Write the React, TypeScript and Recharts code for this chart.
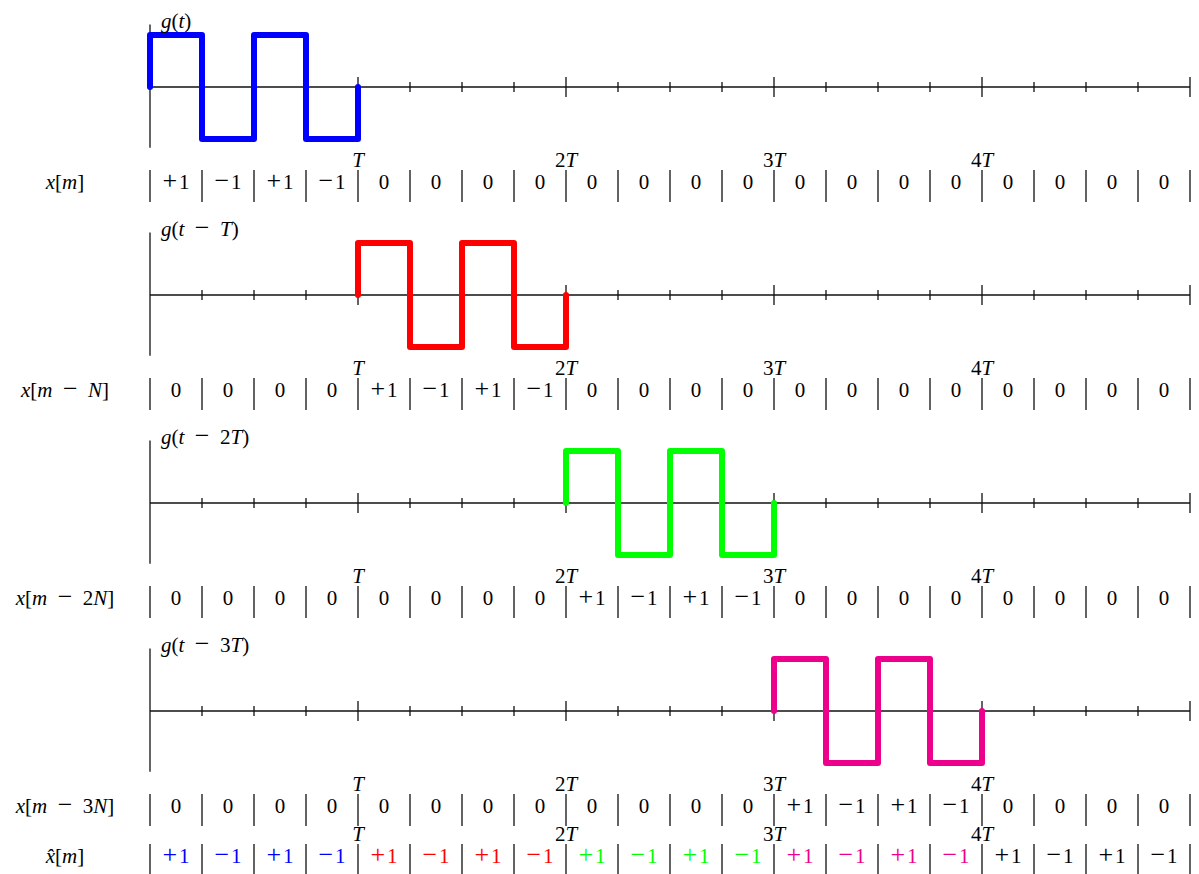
import React from 'react';
import { ComposedChart, Line, Scatter, XAxis, YAxis } from 'recharts';

const W = 1199;
const H = 874;

// ---- data ----
const gShape = [
  { t: 0, g: 0 }, { t: 0, g: 1 }, { t: 0.25, g: 1 }, { t: 0.25, g: -1 },
  { t: 0.5, g: -1 }, { t: 0.5, g: 1 }, { t: 0.75, g: 1 }, { t: 0.75, g: -1 },
  { t: 1, g: -1 }, { t: 1, g: 0 },
];
const delays = [0, 1, 2, 3];
const signalColors = ['#0000ff', '#ff0000', '#00ff00', '#ec008c'];
const panelLabels = ['g(t)', 'g(t\u2002−\u2002T)', 'g(t\u2002−\u20022T)', 'g(t\u2002−\u20023T)'];
const rowLabels = ['x[m]', 'x[m\u2002−\u2002N]', 'x[m\u2002−\u20022N]', 'x[m\u2002−\u20023N]', 'x\u0302[m]'];
const periodLabels = ['T', '2T', '3T', '4T'];
const periodTimes = [1, 2, 3, 4];
const axisEnd = 5;
const tickTimes = [0.25, 0.5, 0.75, 1, 1.25, 1.5, 1.75, 2, 2.25, 2.5, 2.75, 3, 3.25, 3.5, 3.75, 4, 4.25, 4.5, 4.75, 5];
const cellBounds = [0, 0.25, 0.5, 0.75, 1, 1.25, 1.5, 1.75, 2, 2.25, 2.5, 2.75, 3, 3.25, 3.5, 3.75, 4, 4.25, 4.5, 4.75, 5];

const rowX0 = ['+1', '−1', '+1', '−1', '0', '0', '0', '0', '0', '0', '0', '0', '0', '0', '0', '0', '0', '0', '0', '0'];
const rowX1 = ['0', '0', '0', '0', '+1', '−1', '+1', '−1', '0', '0', '0', '0', '0', '0', '0', '0', '0', '0', '0', '0'];
const rowX2 = ['0', '0', '0', '0', '0', '0', '0', '0', '+1', '−1', '+1', '−1', '0', '0', '0', '0', '0', '0', '0', '0'];
const rowX3 = ['0', '0', '0', '0', '0', '0', '0', '0', '0', '0', '0', '0', '+1', '−1', '+1', '−1', '0', '0', '0', '0'];
const rowXhat = ['+1', '−1', '+1', '−1', '+1', '−1', '+1', '−1', '+1', '−1', '+1', '−1', '+1', '−1', '+1', '−1', '+1', '−1', '+1', '−1'];
const xhatColors = [
  '#0000ff', '#0000ff', '#0000ff', '#0000ff',
  '#ff0000', '#ff0000', '#ff0000', '#ff0000',
  '#00ff00', '#00ff00', '#00ff00', '#00ff00',
  '#ec008c', '#ec008c', '#ec008c', '#ec008c',
  '#000000', '#000000', '#000000', '#000000',
];
const rows = [rowX0, rowX1, rowX2, rowX3, rowXhat];

// ---- layout (pixels -> units) ----
const UNIT_PX = 52;
const X0_PX = 150;
const T_PX = 208;
const ZERO0_PX = 87;
const PANEL_GAP = 4;
const u = (p: number) => p / UNIT_PX;
const FONT = 'Liberation Serif';
const FS = 21;
const OP_FS = 26;

const xDomain = [-X0_PX / T_PX, (W - X0_PX) / T_PX];
const yDomain = [-u(H - ZERO0_PX), u(ZERO0_PX)];

const panelZero = (k: number) => -PANEL_GAP * k;
const rowY = (r: number) => (r < 4 ? panelZero(r) - u(102) : panelZero(3) - u(152));
const labelX = (65 - X0_PX) / T_PX;

type Part = { s: string; kind: 'it' | 'rm' | 'op' };

function splitMath(str: string): Part[] {
  const parts: Part[] = [];
  const re = /([A-Za-z]\u0302?)|([+−])|([^A-Za-z+−]+)/g;
  let m: RegExpExecArray | null;
  while ((m = re.exec(str)) !== null) {
    if (m[1]) parts.push({ s: m[1], kind: 'it' });
    else if (m[2]) parts.push({ s: m[2], kind: 'op' });
    else parts.push({ s: m[3], kind: 'rm' });
  }
  return parts;
}

function MathText({ x, y, str, anchor, fill }: any) {
  const parts = splitMath(str);
  return (
    <text
      x={x}
      y={y}
      textAnchor={anchor}
      fill={fill || '#000'}
      style={{ fontFamily: FONT, fontSize: FS, whiteSpace: 'pre' }}
    >
      {parts.map((p, i) => (
        <tspan
          key={i}
          style={{ fontStyle: p.kind === 'it' ? 'italic' : 'normal', fontSize: p.kind === 'op' ? OP_FS : FS }}
        >
          {p.s}
        </tspan>
      ))}
    </text>
  );
}

function CellText({ x, y, str, fill }: any) {
  const sign = str[0] === '+' || str[0] === '−' ? str[0] : '';
  const rest = sign ? str.slice(1) : str;
  return (
    <text x={x} y={y} textAnchor="middle" fill={fill} style={{ fontFamily: FONT, fontSize: FS, whiteSpace: 'pre' }}>
      {sign && <tspan style={{ fontSize: OP_FS }}>{sign}</tspan>}
      {sign && <tspan>{'\u200A'}</tspan>}
      <tspan>{rest}</tspan>
    </text>
  );
}

// ---- derived series ----
const signalSeries = delays.map((d, k) =>
  gShape.map((p) => ({ x: p.t + d, y: p.g + panelZero(k) }))
);
const hAxes = delays.map((_, k) => [
  { x: 0, y: panelZero(k) },
  { x: axisEnd, y: panelZero(k) },
]);
const vAxes = delays.map((_, k) => [
  { x: 0, y: panelZero(k) + 1.2 },
  { x: 0, y: panelZero(k) - 1.17 },
]);
const tickSeries = delays.map((_, k) =>
  tickTimes.flatMap((t) => {
    const h = Number.isInteger(t) ? u(10) : u(5);
    return [
      { x: t, y: panelZero(k) + h },
      { x: t, y: panelZero(k) - h },
      { x: t, y: null },
    ];
  })
);
const barData = rows.flatMap((_, r) => cellBounds.map((t) => ({ x: t, y: rowY(r) })));
const cellData = rows.flatMap((vals, r) =>
  vals.map((v, i) => ({
    x: (cellBounds[i] + cellBounds[i + 1]) / 2,
    y: rowY(r),
    text: v,
    color: r === 4 ? xhatColors[i] : '#000',
  }))
);
const periodData = rows.flatMap((_, r) =>
  periodTimes.map((t, i) => ({ x: t, y: rowY(r), text: periodLabels[i] }))
);
const rowLabelData = rowLabels.map((s, r) => ({ x: labelX, y: rowY(r), text: s }));
const panelLabelData = panelLabels.map((s, k) => ({ x: 0, y: panelZero(k), text: s }));

export default function App() {
  return (
    <div style={{ position: 'absolute', left: 0, top: 0, width: W, height: H, background: '#fff' }}>
      <ComposedChart width={W} height={H} margin={{ top: 0, right: 0, bottom: 0, left: 0 }}>
        <XAxis type="number" dataKey="x" domain={xDomain} allowDataOverflow hide />
        <YAxis type="number" dataKey="y" domain={yDomain} allowDataOverflow hide />
        {tickSeries.map((d, k) => (
          <Line key={'tk' + k} data={d} dataKey="y" stroke="#111" strokeWidth={1.3} dot={false} activeDot={false} connectNulls={false} isAnimationActive={false} />
        ))}
        {hAxes.map((d, k) => (
          <Line key={'h' + k} data={d} dataKey="y" stroke="#111" strokeWidth={1.3} dot={false} isAnimationActive={false} />
        ))}
        {vAxes.map((d, k) => (
          <Line key={'v' + k} data={d} dataKey="y" stroke="#111" strokeWidth={1.3} dot={false} isAnimationActive={false} />
        ))}
        {signalSeries.map((d, k) => (
          <Line
            key={'s' + k}
            data={d}
            dataKey="y"
            stroke={signalColors[k]}
            strokeWidth={6}
            strokeLinecap="round"
            strokeLinejoin="round"
            dot={false}
            isAnimationActive={false}
          />
        ))}
        <Scatter
          data={barData}
          isAnimationActive={false}
          shape={(p: any) => (
            <line x1={p.cx} x2={p.cx} y1={p.cy - 19} y2={p.cy + 13} stroke="#222" strokeWidth={1.4} />
          )}
        />
        <Scatter
          data={cellData}
          isAnimationActive={false}
          shape={(p: any) => <CellText x={p.cx} y={p.cy} str={p.payload.text} fill={p.payload.color} />}
        />
        <Scatter
          data={periodData}
          isAnimationActive={false}
          shape={(p: any) => <MathText x={p.cx} y={p.cy - 22} str={p.payload.text} anchor="middle" />}
        />
        <Scatter
          data={rowLabelData}
          isAnimationActive={false}
          shape={(p: any) => <MathText x={p.cx} y={p.cy} str={p.payload.text} anchor="middle" />}
        />
        <Scatter
          data={panelLabelData}
          isAnimationActive={false}
          shape={(p: any) => <MathText x={p.cx + 11} y={p.cy - 59} str={p.payload.text} anchor="start" />}
        />
      </ComposedChart>
    </div>
  );
}
